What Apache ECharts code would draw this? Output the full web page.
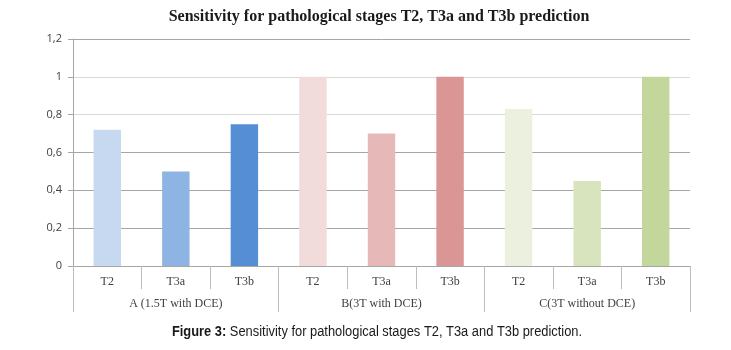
<!DOCTYPE html>
<html>
<head>
<meta charset="utf-8">
<script src="https://cdn.jsdelivr.net/npm/echarts@6/dist/echarts.min.js"></script>
<style>
  html, body { margin: 0; padding: 0; background: #fff; }
  #chart { width: 731px; height: 350px; }
</style>
</head>
<body>
<div id="chart"></div>
<script>
// stages inside each protocol group
const stages = ['T2', 'T3a', 'T3b', 'T2', 'T3a', 'T3b', 'T2', 'T3a', 'T3b'];
const groups = ['A (1.5T with DCE)', 'B(3T with DCE)', 'C(3T without DCE)'];
const sensitivity = [0.72, 0.5, 0.75, 1, 0.7, 1, 0.83, 0.45, 1];

const barColors = ['#c6d9f1', '#8eb4e3', '#558ed5', '#f2dcdb', '#e6b9b8', '#d99694', '#ebf1de', '#d7e4bd', '#c3d69b'];

const chart = echarts.init(document.getElementById('chart'));

const option = {
  animation: false,
  title: {
    text: 'Sensitivity for pathological stages T2, T3a and T3b prediction',
    left: 374,
    top: 4,
    textAlign: 'center',
    textStyle: {
      fontFamily: '"Liberation Serif", "Times New Roman", serif',
      fontWeight: 'bold',
      fontSize: 16,
      color: '#1a1a1a',
    },
  },
  grid: { left: 73, right: 41, top: 39, bottom: 84, containLabel: false },
  xAxis: [
    {
      type: 'category',
      data: stages,
      axisLine: { lineStyle: { color: '#a6a6a6' } },
      axisTick: { show: true, interval: 0, length: 23, lineStyle: { color: '#bdbdbd' } },
      axisLabel: {
        interval: 0,
        margin: 10,
        fontFamily: '"Liberation Serif", "Times New Roman", serif',
        fontSize: 12,
        color: '#404040',
      },
    },
    {
      type: 'category',
      data: groups,
      position: 'bottom',
      axisLine: { show: false },
      axisTick: { show: true, interval: 0, length: 46, lineStyle: { color: '#bdbdbd' } },
      axisLabel: {
        interval: 0,
        margin: 32,
        fontFamily: '"Liberation Serif", "Times New Roman", serif',
        fontSize: 12,
        color: '#404040',
      },
    },
  ],
  yAxis: {
    type: 'value',
    min: 0,
    max: 1.2,
    interval: 0.2,
    axisLine: { show: true, lineStyle: { color: '#a6a6a6' } },
    axisTick: { show: true, length: 5, lineStyle: { color: '#a6a6a6' } },
    axisLabel: {
      margin: 11,
      fontFamily: '"Open Sans", "Liberation Sans", sans-serif',
      fontSize: 11,
      color: '#404040',
      formatter: (v) => String(Math.round(v * 10) / 10).replace('.', ','),
    },
    splitLine: {
      show: true,
      lineStyle: {
        color: ['#a6a6a6', '#a6a6a6', '#a6a6a6', '#a6a6a6', '#d6dccf', '#d6dccf', '#a6a6a6'],
      },
    },
  },
  series: [
    {
      type: 'bar',
      xAxisIndex: 0,
      barWidth: '40%',
      data: sensitivity.map((v, i) => ({ value: v, itemStyle: { color: barColors[i] } })),
    },
  ],
  graphic: [
    {
      type: 'text',
      x: 377,
      y: 332,
      scaleX: 0.92,
      style: {
        text: '{b|Figure 3:} Sensitivity for pathological stages T2, T3a and T3b prediction.',
        x: 0,
        y: 0,
        textAlign: 'center',
        textVerticalAlign: 'middle',
        font: '14px "Liberation Sans", Arial, sans-serif',
        fill: '#1a1a1a',
        rich: {
          b: { fontWeight: 'bold', fontSize: 14, fontFamily: '"Liberation Sans", Arial, sans-serif' },
        },
      },
    },
  ],
};

chart.setOption(option);
</script>
</body>
</html>
